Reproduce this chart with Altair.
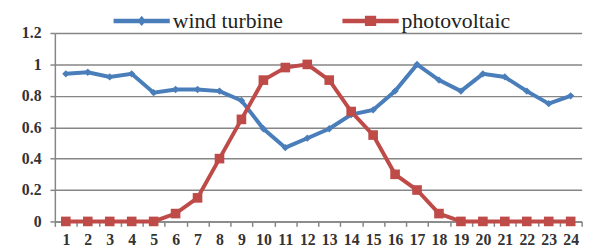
import altair as alt
import pandas as pd

hours = list(range(1, 25))
wind = [0.94, 0.95, 0.92, 0.94, 0.82, 0.84, 0.84, 0.83, 0.77, 0.59, 0.47, 0.53,
        0.59, 0.68, 0.71, 0.83, 1.00, 0.90, 0.83, 0.94, 0.92, 0.83, 0.75, 0.80]
pv = [0, 0, 0, 0, 0, 0.05, 0.15, 0.40, 0.65, 0.90, 0.98, 1.00,
      0.90, 0.70, 0.55, 0.30, 0.20, 0.05, 0, 0, 0, 0, 0, 0]
series = ["wind turbine", "photovoltaic"]
colors = ["#4a7ebb", "#be4b48"]

rows = []
for h, w, p in zip(hours, wind, pv):
    rows.append({"hour": h, "series": series[0], "value": w})
    rows.append({"hour": h, "series": series[1], "value": p})
df = pd.DataFrame(rows)

font = "Liberation Serif"

line_path = "M-1,-0.08L1,-0.08L1,0.08L-1,0.08Z"
diamond_path = line_path + "M0,-0.18L0.15,0L0,0.18L-0.15,0Z"
square_path = line_path + "M-0.2,-0.18L0.2,-0.18L0.2,0.18L-0.2,0.18Z"

x_enc = alt.X("hour:O", sort=hours,
              scale=alt.Scale(type="band", paddingInner=0, paddingOuter=0),
              axis=alt.Axis(title=None, labelAngle=0, tickBand="extent", grid=False,
                            domainColor="#868686", tickColor="#868686", tickSize=5,
                            domainWidth=1.5, tickWidth=1.5,
                            labelFont=font, labelFontSize=16, labelFontWeight="bold",
                            labelColor="#333", labelPadding=5),
              bandPosition=0.5)
y_enc = alt.Y("value:Q", scale=alt.Scale(domain=[0, 1.2]),
              axis=alt.Axis(title=None, values=[0, 0.2, 0.4, 0.6, 0.8, 1.0, 1.2],
                            format="~g", gridColor="#868686", gridWidth=1.5,
                            domainColor="#868686", tickColor="#868686", tickSize=5,
                            domainWidth=1.5, tickWidth=1.5,
                            labelFont=font, labelFontSize=16, labelFontWeight="bold",
                            labelColor="#333", labelPadding=9))

legend = alt.Legend(
    title=None, orient="none", direction="horizontal", legendX=59.5, legendY=-41,
    labelFont=font, labelFontSize=22, labelColor="#222", columnPadding=60,
    symbolSize=3249, labelOffset=3, symbolStrokeWidth=0, symbolOpacity=1,
)

base = alt.Chart(df)
lines = base.mark_line(strokeWidth=4).encode(
    x=x_enc, y=y_enc,
    color=alt.Color("series:N", scale=alt.Scale(domain=series, range=colors), legend=None),
)
pts = base.mark_point(filled=True, opacity=1).encode(
    x=x_enc, y=y_enc,
    color=alt.Color("series:N", scale=alt.Scale(domain=series, range=colors), legend=None),
    shape=alt.Shape("series:N", scale=alt.Scale(domain=series, range=["diamond", "square"]), legend=None),
    size=alt.Size("series:N", scale=alt.Scale(domain=series, range=[55, 95]), legend=None),
)
leg = base.transform_filter("false").mark_point(filled=True, opacity=1).encode(
    x=x_enc, y=y_enc,
    color=alt.Color("series:N", scale=alt.Scale(domain=series, range=colors), legend=legend),
    shape=alt.Shape("series:N", scale=alt.Scale(domain=series, range=[diamond_path, square_path]), legend=legend),
)

chart = alt.layer(lines, pts, leg).resolve_scale(
    color="independent", shape="independent"
).properties(
    width=534, height=191,
    autosize=alt.AutoSizeParams(type="none"),
    padding={"left": 47.5, "top": 23.7, "right": 11.5, "bottom": 26.5},
).configure_view(stroke=None)

chart.save("out.html", embed_options={"renderer": "svg", "actions": False})
